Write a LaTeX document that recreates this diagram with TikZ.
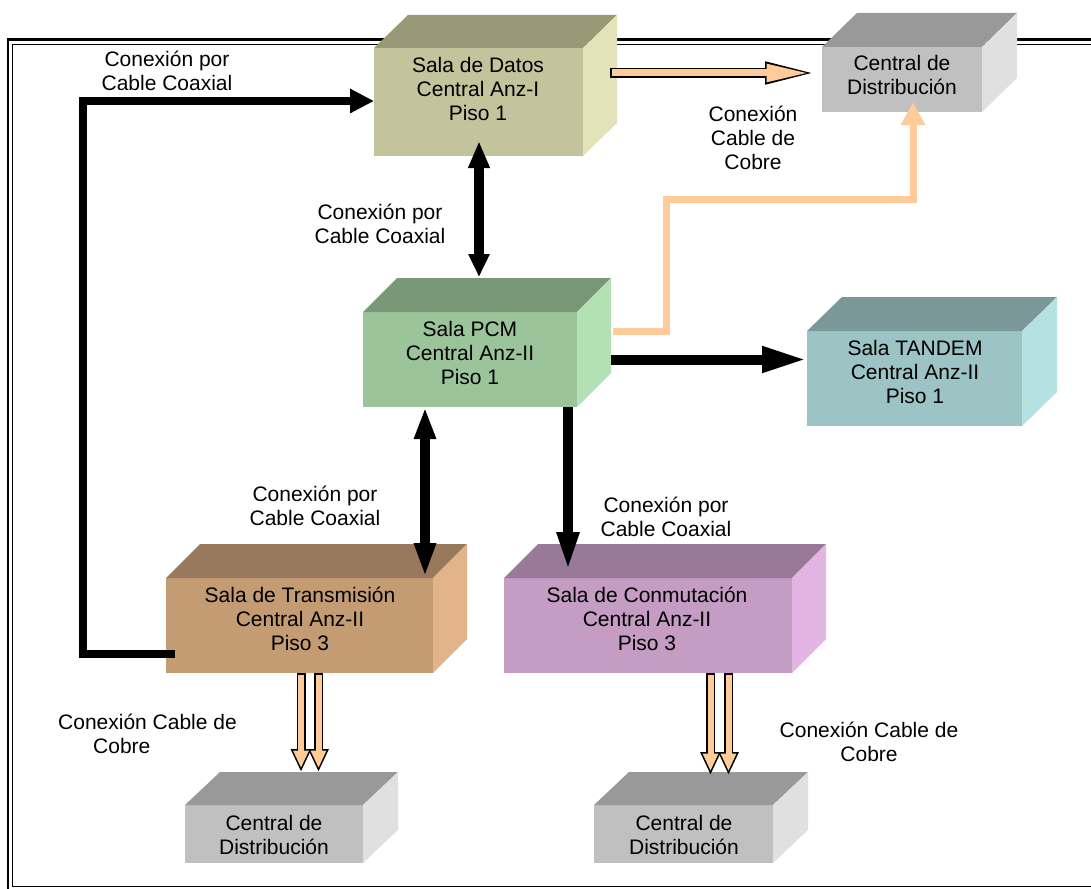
\documentclass[tikz,border=0pt]{standalone}
\usepackage{fontspec}
\setmainfont{Liberation Sans}
\usetikzlibrary{arrows.meta}
\definecolor{peach}{HTML}{FFCC99}
\definecolor{datF}{HTML}{C4C49C}\definecolor{datT}{HTML}{999978}\definecolor{datS}{HTML}{E3E3B9}
\definecolor{pcmF}{HTML}{9BC49B}\definecolor{pcmT}{HTML}{789878}\definecolor{pcmS}{HTML}{B4E1B4}
\definecolor{tanF}{HTML}{9DC4C4}\definecolor{tanT}{HTML}{7A9898}\definecolor{tanS}{HTML}{B4E2E2}
\definecolor{traF}{HTML}{C49C74}\definecolor{traT}{HTML}{98795C}\definecolor{traS}{HTML}{E2B488}
\definecolor{conF}{HTML}{C49CC4}\definecolor{conT}{HTML}{987998}\definecolor{conS}{HTML}{E2B4E2}
\definecolor{gryF}{HTML}{C0C0C0}\definecolor{gryT}{HTML}{999999}\definecolor{gryS}{HTML}{E0E0E0}
\tikzset{
  face/.style={draw=none, inner sep=0pt, outer sep=0pt, anchor=north west},
  lbl/.style={align=center, inner sep=0pt, text=black, font=\fontsize{21pt}{24pt}\selectfont},
  coax/.style={line width=10pt, black},
  loopline/.style={line width=8pt, black, line join=miter},
  copperline/.style={line width=7pt, peach, line join=miter},
}
\newcommand{\cubefaces}[5]{%
  \fill[#4] (#1.north west) -- ([shift={(#2,#3)}]#1.north west) -- ([shift={(#2,#3)}]#1.north east) -- (#1.north east) -- cycle;
  \fill[#5] (#1.north east) -- ([shift={(#2,#3)}]#1.north east) -- ([shift={(#2,#3)}]#1.south east) -- (#1.south east) -- cycle;}
\newcommand{\blockarrow}[9]{%
  \draw[line width=#3pt, black, -{Triangle[length=#5pt,width=#6pt]}] (#1) -- (#2);
  \draw[line width=#4pt, peach, -{Triangle[length=#7pt,width=#8pt]}, shorten >=#9pt, shorten <=1.5pt] (#1) -- (#2);}
\begin{document}
\begin{tikzpicture}[x=1pt, y=-1pt]
\useasboundingbox (0,0) rectangle (1091,888);
\clip (0,0) rectangle (1091,888);
% frame
\draw[line width=2.5pt] (8,39.5) rectangle (1100,893);
\draw[line width=1.7pt] (12.5,44.5) rectangle (1095,886.5);
% boxes
\node[face, fill=datF, minimum width=209pt, minimum height=108pt] (datos) at (374,48) {};
\cubefaces{datos}{34}{-33}{datT}{datS}
\node[face, fill=gryF, minimum width=160pt, minimum height=65pt] (cdtop) at (822,47) {};
\cubefaces{cdtop}{35}{-34}{gryT}{gryS}
\node[face, fill=pcmF, minimum width=214pt, minimum height=95pt] (pcm) at (363,312) {};
\cubefaces{pcm}{34}{-34}{pcmT}{pcmS}
\node[face, fill=tanF, minimum width=215pt, minimum height=95pt] (tandem) at (807,331) {};
\cubefaces{tandem}{35}{-34}{tanT}{tanS}
\node[face, fill=traF, minimum width=267pt, minimum height=95pt] (trans) at (166,578) {};
\cubefaces{trans}{34}{-34}{traT}{traS}
\node[face, fill=conF, minimum width=288pt, minimum height=95pt] (conm) at (504,578) {};
\cubefaces{conm}{34}{-34}{conT}{conS}
\node[face, fill=gryF, minimum width=178pt, minimum height=58pt] (cdbl) at (185,805) {};
\cubefaces{cdbl}{35}{-33}{gryT}{gryS}
\node[face, fill=gryF, minimum width=179pt, minimum height=58pt] (cdbr) at (594,805) {};
\cubefaces{cdbr}{35}{-33}{gryT}{gryS}
% box texts
\node[lbl] (datosT) at (478,89) {Sala de Datos\\Central Anz-I\\Piso 1};
\node[lbl] (cdtopT) at (902,75) {Central de\\Distribución};
\node[lbl] (pcmT) at (470,353) {Sala PCM\\Central Anz-II\\Piso 1};
\node[lbl] (tandemT) at (915,372) {Sala TANDEM\\Central Anz-II\\Piso 1};
\node[lbl] (transT) at (300,619) {Sala de Transmisión\\Central Anz-II\\Piso 3};
\node[lbl] (conmT) at (647,619) {Sala de Conmutación\\Central Anz-II\\Piso 3};
\node[lbl] (cdblT) at (274,835) {Central de\\Distribución};
\node[lbl] (cdbrT) at (684,835) {Central de\\Distribución};
% labels
\node[lbl] (l1) at (167,71) {Conexión por\\Cable Coaxial};
\node[lbl] (l2) at (753,138) {Conexión\\Cable de\\Cobre};
\node[lbl] (l3) at (380,224) {Conexión por\\Cable Coaxial};
\node[lbl] (l4) at (315,506) {Conexión por\\Cable Coaxial};
\node[lbl] (l5) at (666,517) {Conexión por\\Cable Coaxial};
\node[lbl, align=left, anchor=west] (l6) at (58,734) {Conexión Cable de\\\hspace*{35pt}Cobre};
\node[lbl] (l7) at (869,742) {Conexión Cable de\\Cobre};
% coaxial connectors
\coordinate (loopS) at ([xshift=9pt, yshift=-28pt]trans.west);
\coordinate (loopC) at (83,101);
\draw[loopline, -{Triangle[length=24pt,width=23pt]}] (loopS) -| (loopC) -- ([yshift=1pt]datos.west);
\draw[coax, {Triangle[length=27pt,width=20pt]}-{Triangle[length=23pt,width=20pt]}]
  ([xshift=0.5pt, yshift=15pt]datos.south) -- ([xshift=9pt, yshift=35pt]pcm.north);
\draw[coax, {Triangle[length=32pt,width=20pt]}-{Triangle[length=34pt,width=20pt]}]
  ([xshift=-45pt]pcm.south) -- ([xshift=125.5pt, yshift=1pt]trans.north);
\draw[coax, -{Triangle[length=40pt,width=20pt]}]
  ([xshift=98pt]pcm.south) -- ([xshift=-80pt, yshift=6pt]conm.north);
\coordinate (pcmE) at ([xshift=34pt]pcm.east);
\draw[coax, -{Triangle[length=45pt,width=24pt]}] (pcmE) -- (tandem.west |- pcmE);
% copper connectors
\coordinate (pcmR) at ([xshift=36pt, yshift=28.5pt]pcm.east);
\coordinate (cuTurn) at (666,199);
\coordinate (cuEnd) at ([xshift=11pt, yshift=10pt]cdtop.south);
\draw[copperline, -{Triangle[length=23pt,width=23pt]}] (pcmR) -| (cuTurn) -| (cuEnd);
\coordinate (dA) at ([xshift=27pt, yshift=29pt]datos.east);
\coordinate (dB) at ([xshift=-4pt, yshift=6.5pt]cdtop.west);
\blockarrow{dA}{dB}{10}{7}{53}{20}{43.4}{16.4}{8.1}
\coordinate (tb1) at ([xshift=1.5pt]trans.south);
\coordinate (tb2) at ([xshift=19pt]trans.south);
\coordinate (te1) at ([xshift=27pt, yshift=33pt]cdbl.north);
\coordinate (te2) at ([xshift=44.5pt, yshift=33pt]cdbl.north);
\blockarrow{tb1}{te1}{9}{6}{23}{19}{17.6}{14.5}{3.9}
\blockarrow{tb2}{te2}{9}{6}{23}{19}{17.6}{14.5}{3.9}
\coordinate (cb1) at ([xshift=62.5pt]conm.south);
\coordinate (cb2) at ([xshift=80.5pt]conm.south);
\coordinate (ce1) at ([xshift=27pt, yshift=30pt]cdbr.north);
\coordinate (ce2) at ([xshift=45pt, yshift=30pt]cdbr.north);
\blockarrow{cb1}{ce1}{9}{6}{23}{19}{17.6}{14.5}{3.9}
\blockarrow{cb2}{ce2}{9}{6}{23}{19}{17.6}{14.5}{3.9}
\end{tikzpicture}
\end{document}
